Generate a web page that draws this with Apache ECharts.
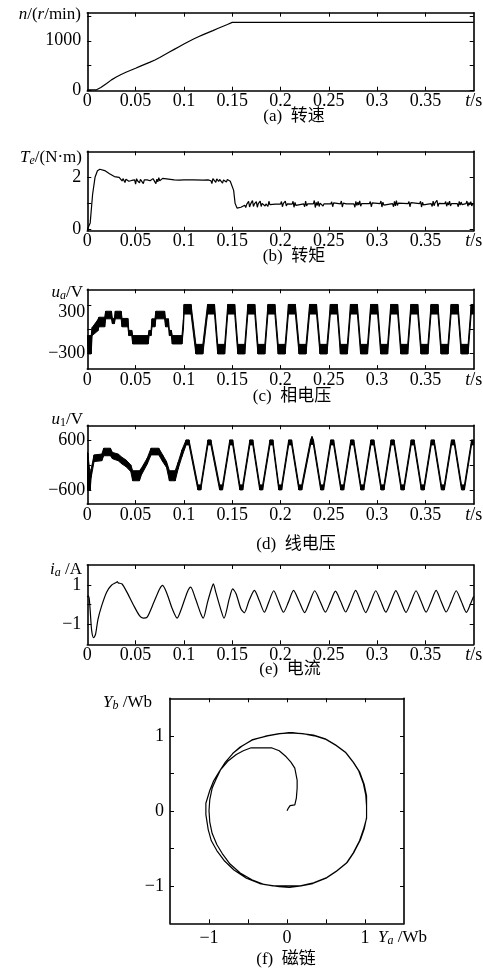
<!DOCTYPE html>
<html>
<head>
<meta charset="utf-8">
<script src="https://cdn.jsdelivr.net/npm/echarts@6/dist/echarts.min.js"></script>
<style>
html, body { margin: 0; padding: 0; background: #fff; }
#main { width: 483px; height: 969px; }
</style>
</head>
<body>
<div id="main"></div>
<script>
// 时间轴刻度
var T_TICKS = [0.05, 0.1, 0.15, 0.2, 0.25, 0.3, 0.35];
var T_LABELS = [0, 0.05, 0.1, 0.15, 0.2, 0.25, 0.3, 0.35, 0.4];   // 0.4 处写 t/s

// (a) 转速 [t, n]
var SPEED = [[0, 0], [0.009, 0], [0.014, 50], [0.02, 130], [0.025, 205], [0.03, 265], [0.035, 315],
    [0.04, 360], [0.045, 400], [0.05, 440], [0.055, 485], [0.06, 525], [0.065, 565], [0.07, 610],
    [0.075, 660], [0.08, 715], [0.085, 770], [0.09, 825], [0.095, 880], [0.1, 935], [0.105, 985],
    [0.11, 1035], [0.115, 1080], [0.12, 1125], [0.125, 1165], [0.13, 1205], [0.135, 1250],
    [0.14, 1290], [0.145, 1330], [0.15, 1373], [0.4, 1373]];
var N_TICKS = [0, 500, 1000, 1500];
var N_LABELS = [0, 1000];

// (b) 转矩 [t, Te]
var TORQUE = [[0, 0], [0.001, 0], [0.003, 0.25], [0.0055, 1.35], [0.008, 2.0], [0.0105, 2.25], [0.013, 2.31],
    [0.018, 2.26], [0.023, 2.14], [0.028, 2.03], [0.033, 2.0], [0.035, 1.96],
    [0.036, 1.86], [0.037, 1.95], [0.038, 1.90], [0.039, 1.80], [0.040, 1.93], [0.041, 1.89], [0.042, 1.94],
    [0.043, 1.85], [0.044, 1.90], [0.045, 1.92], [0.046, 1.88], [0.047, 1.82], [0.048, 1.94], [0.049, 1.90],
    [0.050, 1.74], [0.051, 1.95], [0.052, 1.87], [0.053, 1.90], [0.054, 1.79], [0.055, 1.92], [0.056, 1.89],
    [0.057, 1.97], [0.058, 1.76], [0.059, 1.90], [0.060, 1.84], [0.061, 1.94], [0.062, 1.90], [0.063, 1.88],
    [0.064, 1.92], [0.065, 1.87], [0.066, 1.90], [0.067, 1.80], [0.068, 1.95], [0.069, 1.89], [0.070, 2.02],
    [0.071, 1.76], [0.072, 1.93], [0.073, 1.83], [0.074, 1.99], [0.075, 1.87], [0.076, 1.92], [0.077, 1.80],
    [0.078, 1.96], [0.079, 1.89], [0.080, 1.90], [0.090, 1.90], [0.095, 1.89], [0.100, 1.90], [0.110, 1.90],
    [0.120, 1.89], [0.125, 1.90], [0.126, 1.83], [0.127, 1.94], [0.128, 1.87], [0.129, 1.76], [0.130, 1.95],
    [0.131, 1.89], [0.132, 1.91], [0.133, 1.81], [0.134, 1.94], [0.135, 1.90], [0.136, 1.84], [0.137, 1.92],
    [0.138, 1.88], [0.139, 1.97], [0.140, 1.78], [0.141, 1.90], [0.142, 1.87], [0.143, 1.94], [0.144, 1.82],
    [0.145, 1.92], [0.146, 1.88], [0.147, 1.95], [0.148, 1.85], [0.149, 1.90], [0.150, 1.90],
    [0.1515, 1.50], [0.153, 1.00], [0.155, 0.82], [0.157, 0.80], [0.159, 0.85], [0.161, 0.88],
    [0.163, 0.93], [0.164, 0.84], [0.165, 0.96], [0.166, 0.89], [0.167, 1.08], [0.168, 0.86], [0.169, 0.97],
    [0.170, 0.91], [0.171, 1.11], [0.172, 0.88], [0.173, 0.98], [0.174, 0.92], [0.175, 1.07], [0.176, 0.85],
    [0.177, 0.99], [0.178, 0.94], [0.179, 1.09], [0.180, 0.88], [0.181, 1.00], [0.182, 0.93], [0.183, 1.06],
    [0.184, 0.90], [0.185, 0.98], [0.186, 1.01], [0.187, 0.88], [0.188, 1.08], [0.189, 0.95], [0.190, 0.97],
    [0.195, 0.97], [0.200, 0.97], [0.201, 1.07], [0.202, 0.87], [0.203, 1.00], [0.204, 0.94], [0.205, 1.09],
    [0.206, 0.90], [0.207, 0.98], [0.208, 0.97], [0.212, 0.97], [0.213, 1.08], [0.214, 0.85], [0.215, 1.04],
    [0.216, 0.92], [0.217, 0.99], [0.218, 0.97], [0.224, 0.98], [0.225, 0.87], [0.226, 1.09], [0.227, 0.90],
    [0.228, 0.98], [0.234, 0.98], [0.235, 1.11], [0.236, 0.84], [0.237, 1.04], [0.238, 0.92], [0.239, 1.08],
    [0.240, 0.88], [0.241, 1.01], [0.242, 0.94], [0.243, 1.07], [0.244, 0.90], [0.245, 0.98], [0.252, 0.98],
    [0.253, 1.06], [0.254, 0.87], [0.255, 1.02], [0.256, 0.98], [0.262, 0.98], [0.263, 1.09], [0.264, 0.86],
    [0.265, 1.01], [0.266, 0.95], [0.267, 1.07], [0.268, 0.98], [0.276, 0.98], [0.277, 0.85], [0.278, 1.08],
    [0.279, 0.92], [0.280, 1.04], [0.281, 0.94], [0.282, 1.10], [0.283, 0.89], [0.284, 0.99], [0.292, 0.99],
    [0.293, 1.07], [0.294, 0.87], [0.295, 1.02], [0.296, 0.97], [0.303, 0.99], [0.304, 1.09], [0.305, 0.86],
    [0.306, 1.05], [0.307, 0.93], [0.308, 0.99], [0.316, 0.99], [0.317, 0.87], [0.318, 1.08], [0.319, 0.90],
    [0.320, 1.11], [0.321, 0.92], [0.322, 1.01], [0.323, 0.95], [0.324, 0.99], [0.332, 0.99], [0.333, 1.07],
    [0.334, 0.87], [0.335, 1.03], [0.336, 0.97], [0.344, 0.99], [0.345, 1.08], [0.346, 0.86], [0.347, 1.04],
    [0.348, 0.94], [0.349, 1.00], [0.356, 0.99], [0.357, 0.88], [0.358, 1.09], [0.359, 0.91], [0.360, 1.02],
    [0.361, 0.95], [0.362, 1.12], [0.363, 0.88], [0.364, 1.00], [0.370, 0.99], [0.371, 1.07], [0.372, 0.89],
    [0.373, 1.03], [0.374, 0.94], [0.375, 1.09], [0.376, 0.90], [0.377, 0.99], [0.383, 0.99], [0.384, 0.87],
    [0.385, 1.08], [0.386, 0.93], [0.387, 1.05], [0.388, 0.95], [0.389, 1.00], [0.392, 0.99], [0.393, 1.09],
    [0.394, 0.89], [0.395, 1.03], [0.396, 0.94], [0.397, 1.07], [0.398, 0.90], [0.399, 0.99], [0.4, 0.98]];
var TE_TICKS = [0, 1, 2];
var TE_LABELS = [0, 2];

// (c) 相电压 [t, 下沿, 上沿]  (开关抖动画成黑色带)
var PHASE_V = [[0.000, -80, -80], [0.001, -310, -80], [0.004, -310, -80], [0.005, -80, 20], [0.011, -20, 120],
    [0.012, 30, 150], [0.018, 30, 150], [0.019, 130, 225], [0.025, 130, 225], [0.026, 70, 135], [0.028, 70, 135],
    [0.029, 130, 225], [0.035, 130, 225], [0.036, 30, 135], [0.042, 30, 135], [0.043, -80, -15], [0.046, -80, -15],
    [0.047, -185, -80], [0.063, -185, -80], [0.064, -80, -15], [0.066, -80, -15], [0.067, 30, 130], [0.070, 30, 130],
    [0.071, 130, 225], [0.080, 130, 225], [0.081, 30, 130], [0.084, 30, 130], [0.085, -80, -15], [0.087, -80, -15],
    [0.088, -185, -80], [0.098, -185, -80], [0.0995, 0, 120],
    [0.1002, 190, 310], [0.1074, 190, 310], [0.1124, -310, -190], [0.1196, -310, -190],
    [0.1245, 190, 310], [0.1317, 190, 310], [0.135, -310, -190], [0.1422, -310, -190],
    [0.1454, 190, 310], [0.1526, 190, 310], [0.1558, -310, -190], [0.163, -310, -190],
    [0.1662, 190, 310], [0.1734, 190, 310], [0.1766, -310, -190], [0.1838, -310, -190],
    [0.187, 190, 310], [0.1942, 190, 310], [0.1976, -310, -190], [0.2048, -310, -190],
    [0.2082, 190, 310], [0.2154, 190, 310], [0.2192, -310, -190], [0.2264, -310, -190],
    [0.2301, 190, 310], [0.2373, 190, 310], [0.2409, -310, -190], [0.2481, -310, -190],
    [0.2516, 190, 310], [0.2588, 190, 310], [0.262, -310, -190], [0.2692, -310, -190],
    [0.2724, 190, 310], [0.2796, 190, 310], [0.2829, -310, -190], [0.2901, -310, -190],
    [0.2933, 190, 310], [0.3005, 190, 310], [0.3037, -310, -190], [0.3109, -310, -190],
    [0.3141, 190, 310], [0.3213, 190, 310], [0.3245, -310, -190], [0.3317, -310, -190],
    [0.3349, 190, 310], [0.3421, 190, 310], [0.3454, -310, -190], [0.3526, -310, -190],
    [0.3558, 190, 310], [0.363, 190, 310], [0.3662, -310, -190], [0.3734, -310, -190],
    [0.3766, 190, 310], [0.3838, 190, 310], [0.387, -310, -190], [0.3942, -310, -190],
    [0.3974, 190, 310], [0.4, 190, 310]];
var UA_TICKS = [-300, 0, 300];
var UA_LABELS = [-300, 300];

// (d) 线电压 [t, 下沿, 上沿]
var LINE_V = [[0.000, 300, 300], [0.0005, -600, 280], [0.003, -600, -250], [0.004, -300, -100], [0.007, 80, 240],
    [0.015, 100, 260], [0.017, 220, 400], [0.024, 220, 400], [0.026, 150, 300], [0.032, 100, 260], [0.036, 20, 180],
    [0.040, -40, 120], [0.045, -160, 0], [0.047, -380, -140], [0.054, -380, -140], [0.056, -240, -80],
    [0.062, 20, 160], [0.066, 240, 400], [0.074, 240, 400], [0.078, 80, 240], [0.082, -60, 80],
    [0.085, -380, -140], [0.091, -380, -140], [0.094, -100, 60], [0.098, 200, 360],
    [0.1023, 480, 600], [0.1053, 480, 600], [0.1145, -600, -480], [0.1175, -600, -480],
    [0.1249, 480, 600], [0.1279, 480, 600], [0.137, -600, -480], [0.14, -600, -480],
    [0.1475, 480, 600], [0.1505, 480, 600], [0.1579, -600, -480], [0.1609, -600, -480],
    [0.1683, 480, 600], [0.1713, 480, 600], [0.1785, -600, -480], [0.1815, -600, -480],
    [0.1891, 480, 600], [0.1921, 480, 600], [0.1982, -600, -480], [0.2012, -600, -480],
    [0.2085, 480, 600], [0.2115, 480, 600], [0.219, -600, -480], [0.222, -600, -480],
    [0.2311, 480, 600], [0.2326, 500, 680], [0.2341, 480, 600], [0.2416, -600, -480], [0.2446, -600, -480],
    [0.252, 480, 600], [0.255, 480, 600], [0.2624, -600, -480], [0.2654, -600, -480],
    [0.2728, 480, 600], [0.2758, 480, 600], [0.2832, -600, -480], [0.2862, -600, -480],
    [0.2936, 480, 600], [0.2966, 480, 600], [0.3041, -600, -480], [0.3071, -600, -480],
    [0.3145, 480, 600], [0.3175, 480, 600], [0.3249, -600, -480], [0.3279, -600, -480],
    [0.3353, 480, 600], [0.3383, 480, 600], [0.3457, -600, -480], [0.3487, -600, -480],
    [0.3561, 480, 600], [0.3591, 480, 600], [0.3666, -600, -480], [0.3696, -600, -480],
    [0.377, 480, 600], [0.38, 480, 600], [0.3874, -600, -480], [0.3904, -600, -480],
    [0.3978, 480, 600], [0.4, 480, 600]];
var U1_TICKS = [-600, 0, 600];
var U1_LABELS = [-600, 600];

// (e) 电流 [t, ia]
var CURRENT = [[0, 0.38], [0.001, 0.45], [0.002, 0.3], [0.003, -0.3], [0.0045, -1.3], [0.0065, -1.67],
    [0.0085, -1.5], [0.011, -0.75], [0.015, -0.04], [0.02, 0.63], [0.025, 0.98], [0.03, 1.12], [0.031, 1.16],
    [0.032, 1.1], [0.036, 1.04], [0.041, 0.63], [0.048, -0.04], [0.054, -0.55], [0.058, -0.68], [0.062, -0.63],
    [0.069, 0.13], [0.075, 0.8], [0.078, 0.97], [0.0825, 0.55], [0.088, -0.21], [0.093, -0.68], [0.098, -0.13],
    [0.1035, 0.63], [0.107, 0.88], [0.112, 0.3], [0.1175, -0.46], [0.12, -0.68], [0.1245, 0.13], [0.1285, 0.8],
    [0.1305, 1.05], [0.133, 0.63], [0.138, -0.21], [0.1415, -0.68], [0.147, 0.3], [0.1505, 0.8], [0.154, 0.55],
    [0.159, -0.21], [0.1625, -0.41], [0.1675, 0.21], [0.173, 0.72], [0.178, 0.21], [0.1833, -0.38],
    [0.188, 0.15], [0.193, 0.70], [0.198, 0.16], [0.2031, -0.38], [0.2083, 0.14], [0.2135, 0.72], [0.2192, 0.17],
    [0.225, -0.40], [0.2302, 0.15], [0.2354, 0.70], [0.241, 0.16], [0.2465, -0.38], [0.2517, 0.14], [0.2569, 0.68],
    [0.2622, 0.17], [0.2674, -0.37], [0.2726, 0.15], [0.2778, 0.72], [0.283, 0.16], [0.2882, -0.40],
    [0.2934, 0.14], [0.2986, 0.70], [0.3038, 0.17], [0.309, -0.38], [0.3142, 0.15], [0.3194, 0.71],
    [0.3246, 0.16], [0.3299, -0.39], [0.3351, 0.14], [0.3403, 0.70], [0.3455, 0.17], [0.3507, -0.38],
    [0.3559, 0.15], [0.3611, 0.72], [0.3663, 0.16], [0.3715, -0.37], [0.3767, 0.14], [0.3819, 0.70],
    [0.3871, 0.17], [0.3924, -0.39], [0.3976, 0.15], [0.4, 0.42]];
var IA_TICKS = [-1, 0, 1];
var IA_LABELS = [-1, 1];

// (f) 磁链轨迹 [Ya, Yb]
var FLUX = [[0, 0], [0.02, 0.04], [0.04, 0.07], [0.1, 0.08], [0.12, 0.17], [0.13, 0.3], [0.13, 0.41], [0.1, 0.57],
    [0.05, 0.65], [-0.01, 0.72], [-0.1, 0.8], [-0.2, 0.84], [-0.33, 0.84], [-0.46, 0.84], [-0.56, 0.8],
    [-0.65, 0.75], [-0.76, 0.66], [-0.85, 0.55], [-0.91, 0.42], [-0.96, 0.3], [-0.99, 0.15], [-1.0, 0.0],
    [-0.99, -0.15], [-0.96, -0.3], [-0.9, -0.45], [-0.83, -0.57], [-0.73, -0.71], [-0.6, -0.83], [-0.45, -0.92],
    [-0.3, -0.98], [-0.1, -1.01], [0.03, -1.02], [0.18, -1.0], [0.33, -0.97], [0.5, -0.9], [0.63, -0.81],
    [0.76, -0.7], [0.85, -0.56], [0.93, -0.4], [0.98, -0.25], [1.02, -0.1], [1.02, 0.05], [1.02, 0.2],
    [0.99, 0.35], [0.93, 0.52], [0.85, 0.65], [0.76, 0.77], [0.63, 0.87], [0.5, 0.95], [0.35, 1.0], [0.2, 1.03],
    [0.05, 1.04], [-0.09, 1.03], [-0.25, 1.0], [-0.44, 0.95], [-0.58, 0.86], [-0.69, 0.77], [-0.79, 0.65],
    [-0.87, 0.52], [-0.94, 0.4], [-0.99, 0.27], [-1.04, 0.1], [-1.04, -0.05], [-1.01, -0.25], [-0.97, -0.4],
    [-0.9, -0.53], [-0.8, -0.67], [-0.68, -0.79], [-0.52, -0.9], [-0.35, -0.97], [-0.18, -1.0], [0, -1.0],
    [0.17, -1.0], [0.34, -0.96], [0.51, -0.89], [0.64, -0.8], [0.77, -0.69], [0.86, -0.55], [0.94, -0.39],
    [0.99, -0.24], [1.02, -0.09], [1.02, 0.06], [1.01, 0.21], [0.98, 0.36], [0.92, 0.53], [0.84, 0.66],
    [0.75, 0.78], [0.62, 0.88], [0.49, 0.96], [0.34, 1.01], [0.19, 1.03], [0.04, 1.04], [-0.1, 1.03],
    [-0.26, 1.0], [-0.45, 0.94], [-0.6, 0.85], [-0.7, 0.76]];
var PSI_TICKS = [-1, -0.5, 0, 0.5, 1];
var PSI_LABELS = [-1, 0, 1];

var FONT = '"Liberation Serif", "Noto Sans CJK SC", serif';
var BLACK = '#000';

// 六个子图的位置和纵轴范围
var panels = [
    {left: 87.3, top: 12.7, width: 386.4, height: 78, yMin: -15, yMax: 1570, yTicks: N_TICKS, yLabels: N_LABELS, yMargin: 6},
    {left: 87.3, top: 151.3, width: 386.4, height: 79.4, yMin: -0.05, yMax: 3, yTicks: TE_TICKS, yLabels: TE_LABELS, yMargin: 6},
    {left: 87.3, top: 289.3, width: 386.4, height: 79.8, yMin: -500, yMax: 500, yTicks: UA_TICKS, yLabels: UA_LABELS, yMargin: 2},
    {left: 87.3, top: 425.3, width: 386.4, height: 78.8, yMin: -940, yMax: 950, yTicks: U1_TICKS, yLabels: U1_LABELS, yMargin: 2},
    {left: 87.3, top: 565, width: 386.4, height: 79.3, yMin: -2, yMax: 2, yTicks: IA_TICKS, yLabels: IA_LABELS, yMargin: 6},
    {left: 170, top: 698.3, width: 234, height: 225, yMin: -1.5, yMax: 1.5, yTicks: PSI_TICKS, yLabels: PSI_LABELS, yMargin: 6}
];

function numText(v) {
    return v < 0 ? '\u2212' + Math.abs(v) : String(v);
}

var grids = [], xAxes = [], yAxes = [];
var lineAxis = {show: true, onZero: false, lineStyle: {color: BLACK, width: 1.6}};
var labelBase = {color: BLACK, fontFamily: FONT, fontSize: 18};

panels.forEach(function (p, i) {
    grids.push({left: p.left, top: p.top, width: p.width, height: p.height, outerBoundsMode: 'none', containLabel: false});
    var isFlux = (i === 5);
    var xMin = isFlux ? -1.5 : 0, xMax = isFlux ? 1.5 : 0.4;
    var xTicks = isFlux ? PSI_TICKS : T_TICKS;
    var xLabels = isFlux ? PSI_LABELS : T_LABELS;
    // 下方 x 轴
    xAxes.push({
        type: 'value', gridIndex: i, min: xMin, max: xMax, position: 'bottom',
        axisLine: lineAxis, splitLine: {show: false},
        axisTick: {show: true, inside: true, length: 4, customValues: xTicks, lineStyle: {color: BLACK, width: 1}},
        axisLabel: Object.assign({}, labelBase, {
            customValues: xLabels, margin: isFlux ? 6 : 2,
            formatter: function (v) { return (!isFlux && v === 0.4) ? '{i|t}/s' : numText(v); },
            rich: {i: {fontStyle: 'italic', fontFamily: FONT, fontSize: 18, color: BLACK}}
        })
    });
    // 上方镜像 x 轴（只画刻度）
    xAxes.push({
        type: 'value', gridIndex: i, min: xMin, max: xMax, position: 'top',
        axisLine: lineAxis, splitLine: {show: false}, axisLabel: {show: false},
        axisTick: {show: true, inside: true, length: 4, customValues: xTicks, lineStyle: {color: BLACK, width: 1}}
    });
    yAxes.push({
        type: 'value', gridIndex: i, min: p.yMin, max: p.yMax, position: 'left',
        axisLine: lineAxis, splitLine: {show: false},
        axisTick: {show: true, inside: true, length: 4, customValues: p.yTicks, lineStyle: {color: BLACK, width: 1}},
        axisLabel: Object.assign({}, labelBase, {
            customValues: p.yLabels, margin: p.yMargin,
            // (c) 图里 300 的标注比刻度低一些
            formatter: function (v) { return (i === 2 && v > 0) ? '{lo|' + numText(v) + '}' : numText(v); },
            rich: {lo: {fontFamily: FONT, fontSize: 18, color: BLACK, padding: [14, 0, 0, 0]}}
        })
    });
    yAxes.push({
        type: 'value', gridIndex: i, min: p.yMin, max: p.yMax, position: 'right',
        axisLine: lineAxis, splitLine: {show: false}, axisLabel: {show: false},
        axisTick: {show: true, inside: true, length: 4, customValues: p.yTicks, lineStyle: {color: BLACK, width: 1}}
    });
});

function plainLine(i, data, smooth) {
    return {
        type: 'line', xAxisIndex: 2 * i, yAxisIndex: 2 * i, data: data, symbol: 'none',
        smooth: smooth || false, lineStyle: {color: BLACK, width: 1.2}, animation: false
    };
}

// 上下沿之间的黑带：相邻两行连成一个四边形
function bandSeries(i, rows) {
    return {
        type: 'custom', xAxisIndex: 2 * i, yAxisIndex: 2 * i, data: rows, clip: true, animation: false,
        encode: {x: 0, y: [1, 2]},
        renderItem: function (params, api) {
            var k = params.dataIndex;
            if (k >= rows.length - 1) return null;
            var a = rows[k], b = rows[k + 1];
            var pts = [api.coord([a[0], a[2]]), api.coord([b[0], b[2]]),
                       api.coord([b[0], b[1]]), api.coord([a[0], a[1]])];
            return {type: 'polygon', shape: {points: pts}, style: {fill: BLACK, stroke: BLACK, lineWidth: 1}};
        }
    };
}

var series = [plainLine(0, SPEED), plainLine(1, TORQUE), bandSeries(2, PHASE_V), bandSeries(3, LINE_V),
    plainLine(4, CURRENT, 0.25), plainLine(5, FLUX)];

var nameRich = {
    i: {fontStyle: 'italic', fontFamily: FONT, fontSize: 17, color: BLACK},
    s: {fontStyle: 'italic', fontFamily: FONT, fontSize: 12, color: BLACK, verticalAlign: 'bottom'},
    n: {fontFamily: FONT, fontSize: 12, color: BLACK, verticalAlign: 'bottom'}
};

function txt(x, y, text, align) {
    return {
        type: 'text', x: x, y: y, silent: true,
        style: {text: text, fill: BLACK, font: '17px ' + FONT, align: align, verticalAlign: 'middle', rich: nameRich}
    };
}

var graphics = [
    txt(81, 15, '{i|n}/({i|r}/min)', 'right'),
    txt(82, 158, '{i|T}{s|e}/(N·m)', 'right'),
    txt(83, 293, '{i|u}{s|a}/V', 'right'),
    txt(83, 420, '{i|u}{n|1}/V', 'right'),
    txt(82, 570, '{i|i}{s|a} /A', 'right'),
    txt(103, 703, '{i|Y}{s|b} /Wb', 'left'),
    txt(378, 938, '{i|Y}{s|a} /Wb', 'left'),
    txt(294, 117, '(a)  转速', 'center'),
    txt(294, 257, '(b)  转矩', 'center'),
    txt(292, 397, '(c)  相电压', 'center'),
    txt(296, 545, '(d)  线电压', 'center'),
    txt(290, 670, '(e)  电流', 'center'),
    txt(286, 960, '(f)  磁链', 'center')
];

var myChart = echarts.init(document.getElementById('main'), null, {renderer: 'canvas'});
myChart.setOption({
    animation: false,
    backgroundColor: '#fff',
    grid: grids,
    xAxis: xAxes,
    yAxis: yAxes,
    series: series,
    graphic: graphics
});
</script>
</body>
</html>
